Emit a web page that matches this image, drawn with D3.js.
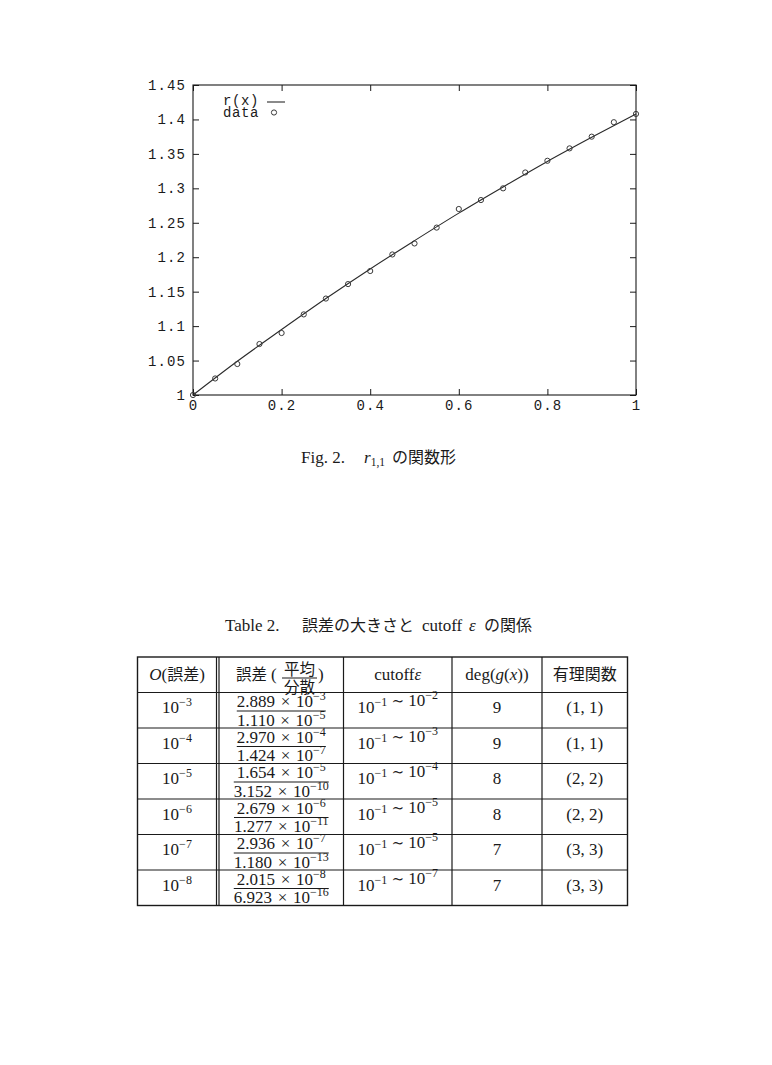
<!DOCTYPE html>
<html>
<head>
<meta charset="utf-8">
<script src="https://cdn.jsdelivr.net/npm/d3@7"></script>
<style>
  body { margin: 0; background: #fff; }
  svg { display: block; }
</style>
</head>
<body>
<svg id="page" width="772" height="1065"></svg>
<script>
// ---- plot data ----
var dataX = [0, 0.05, 0.1, 0.15, 0.2, 0.25, 0.3, 0.35, 0.4, 0.45, 0.5,
             0.55, 0.6, 0.65, 0.7, 0.75, 0.8, 0.85, 0.9, 0.95, 1]
var dataY = [1.000, 1.024, 1.045, 1.074, 1.090, 1.117, 1.140, 1.161, 1.180, 1.204, 1.220,
             1.243, 1.270, 1.283, 1.300, 1.323, 1.340, 1.358, 1.375, 1.396, 1.408]
var curveX = [0, 0.1, 0.2, 0.3, 0.4, 0.5, 0.6, 0.7, 0.8, 0.9, 1]
var curveY = [1.000, 1.049, 1.095, 1.140, 1.183, 1.224, 1.264, 1.302, 1.339, 1.374, 1.408]
var xTicks = [0, 0.2, 0.4, 0.6, 0.8, 1]
var yTicks = [1, 1.05, 1.1, 1.15, 1.2, 1.25, 1.3, 1.35, 1.4, 1.45]
var legendLabels = ['r(x)', 'data']

// ---- table data ----
var orderExp = ['−3', '−4', '−5', '−6', '−7', '−8']
var meanMant = ['2.889', '2.970', '1.654', '2.679', '2.936', '2.015']
var meanExp = ['−3', '−4', '−5', '−6', '−7', '−8']
var varMant = ['1.110', '1.424', '3.152', '1.277', '1.180', '6.923']
var varExp = ['−5', '−7', '−10', '−11', '−13', '−16']
var cutoffHi = ['−1', '−1', '−1', '−1', '−1', '−1']
var cutoffLo = ['−2', '−3', '−4', '−5', '−5', '−7']
var degs = ['9', '9', '8', '8', '7', '7']
var rational = ['(1, 1)', '(1, 1)', '(2, 2)', '(2, 2)', '(3, 3)', '(3, 3)']

var ink = '#1a1a1a'
var mono = "'Liberation Mono', 'DejaVu Sans Mono', monospace"
var serif = "'Liberation Serif', 'DejaVu Serif', serif"
var jp = "'Noto Sans CJK JP', sans-serif"

var svg = d3.select('#page')
svg.append('rect').attr('width', 772).attr('height', 1065).attr('fill', '#fff')

// ================= plot =================
var x = d3.scaleLinear().domain([0, 1]).range([193, 636])
var y = d3.scaleLinear().domain([1, 1.45]).range([395, 85])

var plot = svg.append('g')

function styleAxis(g) {
    g.select('.domain').remove()
    g.selectAll('line').attr('stroke', ink).attr('stroke-width', 1)
    g.selectAll('text')
        .style('font-family', mono)
        .style('font-size', '14px')
        .style('letter-spacing', '1.1px')
        .attr('fill', ink)
}

plot.append('g')
    .attr('transform', 'translate(0,' + y(1) + ')')
    .call(d3.axisBottom(x).tickValues(xTicks).tickSize(-6).tickPadding(5)
        .tickFormat(function(d) { return String(d) }))
    .call(styleAxis)
plot.append('g')
    .attr('transform', 'translate(0,' + y(1.45) + ')')
    .call(d3.axisTop(x).tickValues(xTicks).tickSize(-6).tickFormat(''))
    .call(styleAxis)
plot.append('g')
    .attr('transform', 'translate(' + x(0) + ',0)')
    .call(d3.axisLeft(y).tickValues(yTicks).tickSize(-6).tickPadding(7)
        .tickFormat(function(d) { return String(d) }))
    .call(styleAxis)
plot.append('g')
    .attr('transform', 'translate(' + x(1) + ',0)')
    .call(d3.axisRight(y).tickValues(yTicks).tickSize(-6).tickFormat(''))
    .call(styleAxis)

// frame
plot.append('rect')
    .attr('x', x(0)).attr('y', y(1.45))
    .attr('width', x(1) - x(0)).attr('height', y(1) - y(1.45))
    .attr('fill', 'none').attr('stroke', ink).attr('stroke-width', 1.1)

// r(x) curve
var line = d3.line()
    .x(function(d, i) { return x(curveX[i]) })
    .y(function(d) { return y(d) })
    .curve(d3.curveMonotoneX)
plot.append('path')
    .datum(curveY)
    .attr('d', line)
    .attr('fill', 'none')
    .attr('stroke', '#2a2a2a')
    .attr('stroke-width', 1.1)

// data points
plot.append('g').selectAll('circle')
    .data(dataY)
    .enter()
    .append('circle')
    .attr('cx', function(d, i) { return x(dataX[i]) })
    .attr('cy', function(d) { return y(d) })
    .attr('r', 2.6)
    .attr('fill', 'none')
    .attr('stroke', '#3a3a3a')
    .attr('stroke-width', 1)

// legend
var key = plot.append('g')
key.selectAll('text')
    .data(legendLabels)
    .enter()
    .append('text')
    .attr('x', 259)
    .attr('y', function(d, i) { return 104.5 + i * 12 })
    .attr('text-anchor', 'end')
    .style('font-family', mono)
    .style('font-size', '14px')
    .style('letter-spacing', '0.6px')
    .attr('fill', ink)
    .text(function(d) { return d })
key.append('line')
    .attr('x1', 267).attr('x2', 285).attr('y1', 102).attr('y2', 102)
    .attr('stroke', '#2a2a2a').attr('stroke-width', 1.1)
key.append('circle')
    .attr('cx', 274).attr('cy', 112.5).attr('r', 2.6)
    .attr('fill', 'none').attr('stroke', '#3a3a3a').attr('stroke-width', 1)

// figure caption
var cap = svg.append('text')
    .attr('y', 463)
    .style('font-family', serif)
    .style('font-size', '17px')
    .attr('fill', ink)
cap.append('tspan').attr('x', 301).text('Fig. 2.')
cap.append('tspan').attr('x', 364).style('font-style', 'italic').text('r')
cap.append('tspan').attr('dy', 3).style('font-size', '11.5px').text('1,1')
cap.append('tspan').attr('dy', -3).attr('x', 392)
    .style('font-family', jp).style('font-size', '16px').text('の関数形')

// ================= table =================
var tcap = svg.append('text')
    .attr('y', 631)
    .style('font-family', serif)
    .style('font-size', '17px')
    .attr('fill', ink)
tcap.append('tspan').attr('x', 225).text('Table 2.')
tcap.append('tspan').attr('x', 302).style('font-family', jp).style('font-size', '16px').text('誤差の大きさと')
tcap.append('tspan').attr('x', 422).text('cutoff')
tcap.append('tspan').attr('x', 469).style('font-style', 'italic').text('ε')
tcap.append('tspan').attr('x', 484).style('font-family', jp).style('font-size', '16px').text('の関係')

var colEdges = [137.5, 216.5, 343.5, 452, 542, 627.5]
var row = d3.scaleLinear().domain([0, 7]).range([657, 905.5])
var rowIdx = d3.range(orderExp.length)
var colMid = function(c) { return (c == 1 ? (219 + colEdges[2]) : (colEdges[c] + colEdges[c + 1])) / 2 }

var tbl = svg.append('g')
    .style('font-family', serif)
    .style('font-size', '17px')
    .attr('fill', ink)

// grid
tbl.append('rect')
    .attr('x', colEdges[0]).attr('y', row(0))
    .attr('width', colEdges[5] - colEdges[0]).attr('height', row(7) - row(0))
    .attr('fill', 'none').attr('stroke', ink).attr('stroke-width', 1.4)
tbl.selectAll('.hline')
    .data(d3.range(1, 7))
    .enter()
    .append('line')
    .attr('x1', colEdges[0]).attr('x2', colEdges[5])
    .attr('y1', function(d) { return row(d) }).attr('y2', function(d) { return row(d) })
    .attr('stroke', ink).attr('stroke-width', 1.2)
tbl.selectAll('.vline')
    .data([216.5, 219, 343.5, 452, 542])
    .enter()
    .append('line')
    .attr('x1', function(d) { return d }).attr('x2', function(d) { return d })
    .attr('y1', row(0)).attr('y2', row(7))
    .attr('stroke', ink).attr('stroke-width', 1.2)

// helper: "base" with superscript
function power(sel, base, exp) {
    sel.append('tspan').text(base)
    sel.append('tspan').attr('dy', -7).style('font-size', '12px').text(exp)
    sel.append('tspan').attr('dy', 7).text('')
}

// header
var hy = row(0) + 22.5
var h1 = tbl.append('text').attr('x', colMid(0)).attr('y', hy).attr('text-anchor', 'middle')
h1.append('tspan').style('font-style', 'italic').text('O')
h1.append('tspan').text('(')
h1.append('tspan').style('font-family', jp).style('font-size', '16px').text('誤差')
h1.append('tspan').text(')')

tbl.append('text').attr('x', 236).attr('y', hy)
    .style('font-family', jp).style('font-size', '15.5px').text('誤差')
tbl.append('text').attr('x', 271).attr('y', hy).text('(')
tbl.append('text').attr('x', 299.5).attr('y', row(0) + 17.5).attr('text-anchor', 'middle')
    .style('font-family', jp).style('font-size', '15.5px').text('平均')
tbl.append('line').attr('x1', 282).attr('x2', 317).attr('y1', row(0) + 21).attr('y2', row(0) + 21)
    .attr('stroke', ink).attr('stroke-width', 1.2)
tbl.append('text').attr('x', 299.5).attr('y', row(0) + 35.5).attr('text-anchor', 'middle')
    .style('font-family', jp).style('font-size', '15.5px').text('分散')
tbl.append('text').attr('x', 318).attr('y', hy).text(')')

var h3 = tbl.append('text').attr('x', colMid(2)).attr('y', hy).attr('text-anchor', 'middle')
h3.append('tspan').text('cutoff')
h3.append('tspan').style('font-style', 'italic').text('ε')

var h4 = tbl.append('text').attr('x', colMid(3)).attr('y', hy).attr('text-anchor', 'middle')
h4.append('tspan').text('deg(')
h4.append('tspan').style('font-style', 'italic').text('g')
h4.append('tspan').text('(')
h4.append('tspan').style('font-style', 'italic').text('x')
h4.append('tspan').text('))')

tbl.append('text').attr('x', colMid(4)).attr('y', hy).attr('text-anchor', 'middle')
    .style('font-family', jp).style('font-size', '16px').text('有理関数')

// body rows
rowIdx.forEach(function(i) {
    var top = row(i + 1)
    var by = top + 20.5

    var c1 = tbl.append('text').attr('x', colMid(0)).attr('y', by).attr('text-anchor', 'middle')
    power(c1, '10', orderExp[i])

    var num = tbl.append('text').attr('x', colMid(1)).attr('y', top + 14.5).attr('text-anchor', 'middle')
    power(num, meanMant[i] + '\u2004×\u200410', meanExp[i])
    var den = tbl.append('text').attr('x', colMid(1)).attr('y', top + 33).attr('text-anchor', 'middle')
    power(den, varMant[i] + '\u2004×\u200410', varExp[i])
    var w = Math.max(num.node().getBBox().width, den.node().getBBox().width)
    tbl.append('line')
        .attr('x1', colMid(1) - w / 2).attr('x2', colMid(1) + w / 2)
        .attr('y1', top + 18.5).attr('y2', top + 18.5)
        .attr('stroke', ink).attr('stroke-width', 1.2)

    var c3 = tbl.append('text').attr('x', colMid(2)).attr('y', by).attr('text-anchor', 'middle')
    power(c3, '10', cutoffHi[i])
    c3.append('tspan').text('\u2005')
    c3.append('tspan').style('font-family', "'DejaVu Serif', serif").style('font-size', '15px').text('∼')
    c3.append('tspan').text('\u2005')
    power(c3, '10', cutoffLo[i])

    tbl.append('text').attr('x', colMid(3)).attr('y', by).attr('text-anchor', 'middle').text(degs[i])
    tbl.append('text').attr('x', colMid(4)).attr('y', by).attr('text-anchor', 'middle').text(rational[i])
})
</script>
</body>
</html>
